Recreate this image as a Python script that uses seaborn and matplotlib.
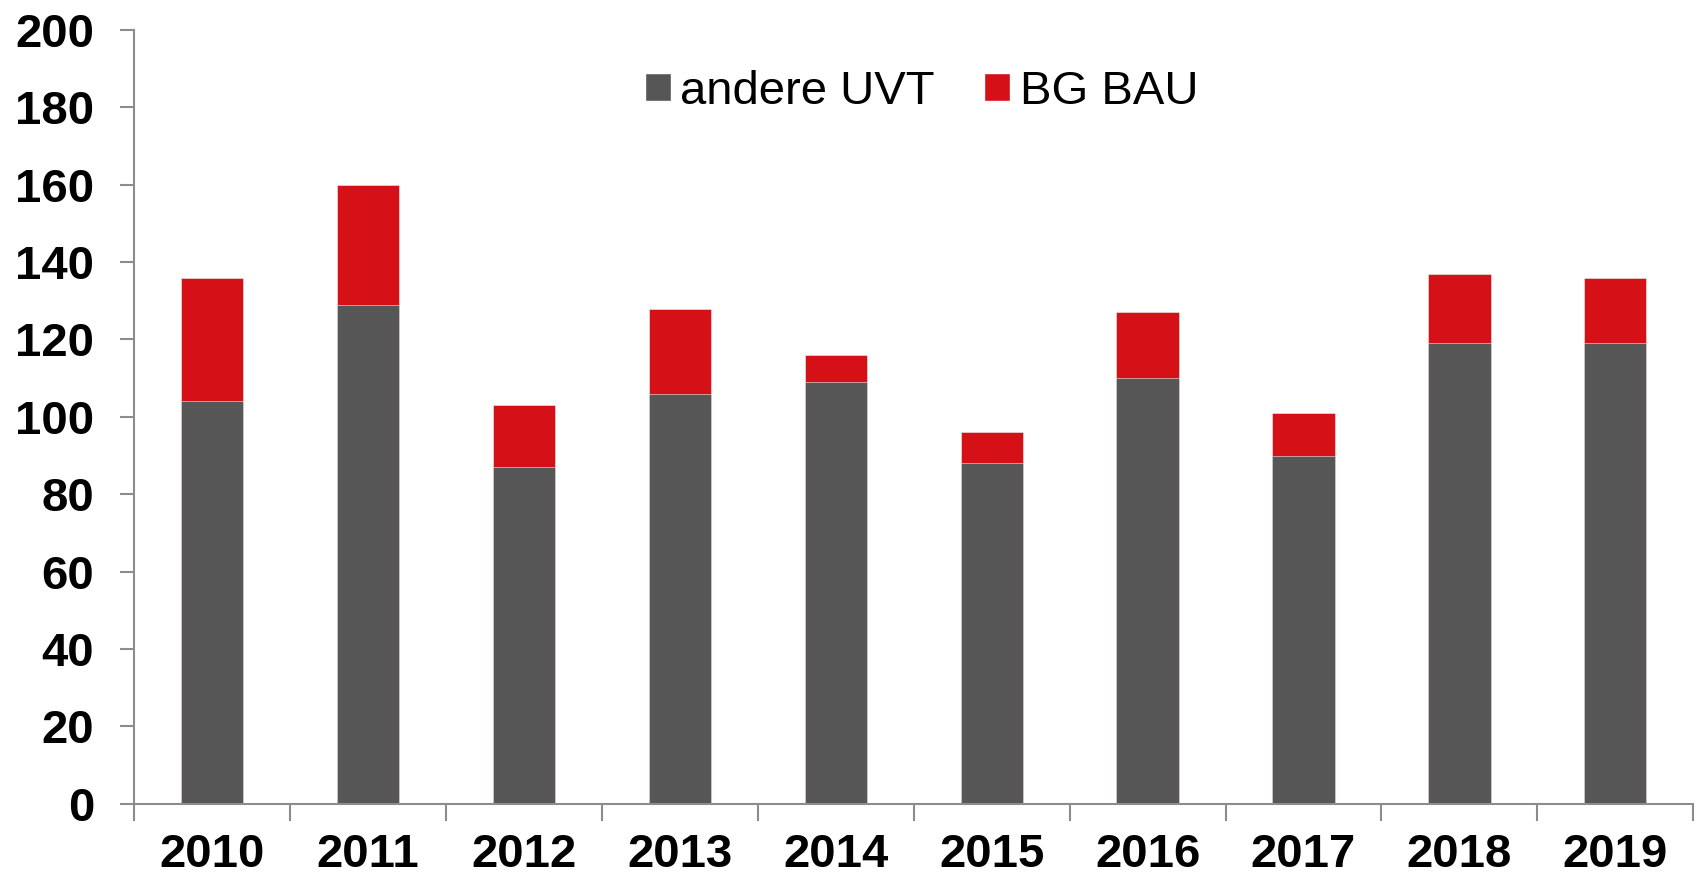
import numpy as np
import pandas as pd
import seaborn as sns
import matplotlib.pyplot as plt
from matplotlib.patches import Patch

GRAY = "#565656"
RED = "#D51016"
AXIS_COLOR = "#8C8C8C"

years = ["2010", "2011", "2012", "2013", "2014", "2015", "2016", "2017", "2018", "2019"]
andere_uvt = [104, 129, 87, 106, 109, 88, 110, 90, 119, 119]
bg_bau = [32, 31, 16, 22, 7, 8, 17, 11, 18, 17]
y_ticks = [0, 20, 40, 60, 80, 100, 120, 140, 160, 180, 200]


def main():
  df = pd.DataFrame({"Jahr": years, "andere UVT": andere_uvt, "BG BAU": bg_bau})
  df["Gesamt"] = df["andere UVT"] + df["BG BAU"]

  sns.set_style("white")
  plt.rcParams["font.family"] = ["Liberation Sans", "DejaVu Sans"]
  plt.rcParams["text.color"] = "black"

  fig, ax = plt.subplots(figsize=(17, 8.85), dpi=100)
  fig.subplots_adjust(left=0.079, right=0.996, top=0.966, bottom=0.092)

  # stacked bars: total in red, the lower part in gray drawn on top
  sns.barplot(x="Jahr", y="Gesamt", data=df, color=RED, width=0.4,
              saturation=1, ax=ax, edgecolor="#eeeeee", linewidth=0.4)
  sns.barplot(x="Jahr", y="andere UVT", data=df, color=GRAY, width=0.4,
              saturation=1, ax=ax, edgecolor="#eeeeee", linewidth=0.4)

  ax.set_xlim(-0.5, len(years) - 0.5)
  ax.set_ylim(0, 200)
  ax.set_xlabel("")
  ax.set_ylabel("")

  # tick marks between the categories, labels under the bars
  ax.set_xticks(np.arange(-0.5, len(years), 1.0))
  ax.set_xticklabels([])
  ax.set_xticks(np.arange(len(years)), minor=True)
  ax.set_xticklabels(years, minor=True, fontsize=34, fontweight="bold")
  ax.tick_params(axis="x", which="major", bottom=True, length=12, width=1.5,
                 color=AXIS_COLOR, direction="out")
  ax.tick_params(axis="x", which="minor", bottom=True, length=0, pad=21, labelcolor="black")

  ax.set_yticks(y_ticks)
  ax.set_yticklabels([str(v) for v in y_ticks], fontsize=34, fontweight="bold")
  ax.tick_params(axis="y", left=True, length=10, width=1.5, color=AXIS_COLOR,
                 direction="out", pad=19, labelcolor="black")

  for side in ["top", "right"]:
    ax.spines[side].set_visible(False)
  for side in ["left", "bottom"]:
    ax.spines[side].set_color(AXIS_COLOR)
    ax.spines[side].set_linewidth(1.5)

  handles = [Patch(facecolor=GRAY, label="andere UVT"), Patch(facecolor=RED, label="BG BAU")]
  ax.legend(handles=handles, loc="center", bbox_to_anchor=(0.505, 0.92), ncol=2,
            frameon=False, fontsize=34, handlelength=0.55, handleheight=0.55,
            handletextpad=0.2, columnspacing=1.05, labelcolor="black")

  plt.savefig("out.png", dpi=100)


if __name__ == "__main__":
  main()
